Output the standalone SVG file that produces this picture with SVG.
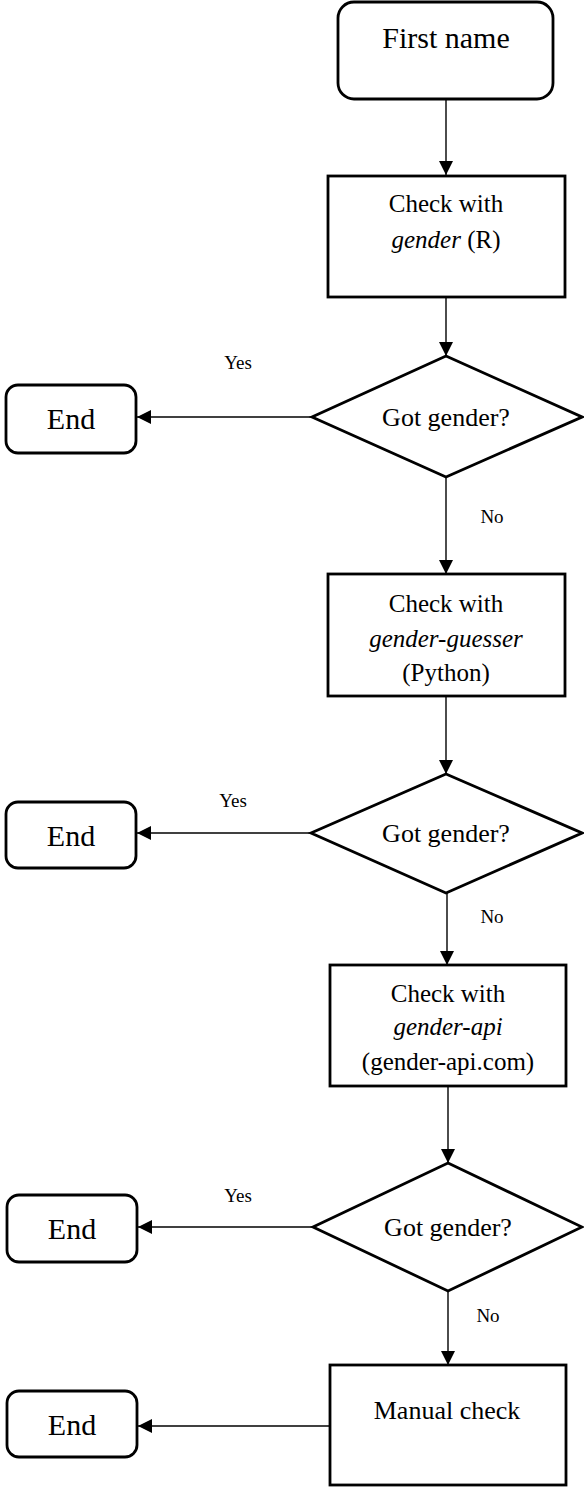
<svg xmlns="http://www.w3.org/2000/svg" width="584" height="1489" viewBox="0 0 584 1489">
<defs>
<marker id="arr" markerUnits="userSpaceOnUse" markerWidth="14" markerHeight="14" refX="14" refY="7" orient="auto">
<path d="M0,0 L14,7 L0,14 z" fill="#000"/>
</marker>
<style>
.box{fill:#fff;stroke:#000;stroke-width:2.8}
.edge{fill:none;stroke:#000;stroke-width:1.4;marker-end:url(#arr)}
text{font-family:"Liberation Serif","Times New Roman",serif;fill:#000;text-anchor:middle}
.big{font-size:30px}
.mid{font-size:25px}
.dec{font-size:26px}
.lbl{font-size:19px}
.it{font-style:italic}
</style>
</defs>
<rect width="584" height="1489" fill="#fff"/>
<g id="connectors">
<line class="edge" x1="446" y1="99" x2="446" y2="175"/>
<line class="edge" x1="446" y1="297" x2="446" y2="356"/>
<line class="edge" x1="312" y1="417" x2="137" y2="417"/>
<line class="edge" x1="446" y1="477" x2="446" y2="574"/>
<line class="edge" x1="446" y1="696" x2="446" y2="774"/>
<line class="edge" x1="311" y1="833" x2="137" y2="833"/>
<line class="edge" x1="447" y1="893" x2="447" y2="965"/>
<line class="edge" x1="448" y1="1086" x2="448" y2="1163"/>
<line class="edge" x1="313" y1="1227" x2="138" y2="1227"/>
<line class="edge" x1="448" y1="1291" x2="448" y2="1365"/>
<line class="edge" x1="330" y1="1426" x2="138" y2="1426"/>
<text class="lbl" x="238" y="369">Yes</text>
<text class="lbl" x="492" y="523">No</text>
<text class="lbl" x="233" y="807">Yes</text>
<text class="lbl" x="492" y="923">No</text>
<text class="lbl" x="238" y="1202">Yes</text>
<text class="lbl" x="488" y="1322">No</text>
</g>
<g id="start">
<rect class="box" x="338" y="2" width="215" height="97" rx="16"/>
<text class="big" x="446" y="48">First name</text>
</g>
<g id="check1">
<rect class="box" x="328" y="176" width="237" height="121"/>
<text class="mid" x="446" y="212">Check with</text>
<text class="mid" x="446" y="248"><tspan class="it">gender</tspan> (R)</text>
</g>
<g id="dec1">
<polygon class="box" points="446,356 582,417 446,477 312,417"/>
<text class="dec" x="446" y="426">Got gender?</text>
</g>
<g id="end1">
<rect class="box" x="6" y="385" width="130" height="68" rx="12"/>
<text class="big" x="71" y="429">End</text>
</g>
<g id="check2">
<rect class="box" x="328" y="574" width="237" height="122"/>
<text class="mid" x="446" y="612">Check with</text>
<text class="mid it" x="446" y="647">gender-guesser</text>
<text class="mid" x="446" y="681">(Python)</text>
</g>
<g id="dec2">
<polygon class="box" points="446,774 582,833 446,893 311,833"/>
<text class="dec" x="446" y="842">Got gender?</text>
</g>
<g id="end2">
<rect class="box" x="6" y="802" width="130" height="66" rx="12"/>
<text class="big" x="71" y="846">End</text>
</g>
<g id="check3">
<rect class="box" x="330" y="965" width="236" height="121"/>
<text class="mid" x="448" y="1002">Check with</text>
<text class="mid it" x="448" y="1035">gender-api</text>
<text class="mid" x="448" y="1070">(gender-api.com)</text>
</g>
<g id="dec3">
<polygon class="box" points="448,1163 582,1227 448,1291 313,1227"/>
<text class="dec" x="448" y="1236">Got gender?</text>
</g>
<g id="end3">
<rect class="box" x="7" y="1195" width="130" height="67" rx="12"/>
<text class="big" x="72" y="1239">End</text>
</g>
<g id="manual">
<rect class="box" x="330" y="1365" width="236" height="120"/>
<text class="dec" x="447" y="1419">Manual check</text>
</g>
<g id="end4">
<rect class="box" x="7" y="1391" width="130" height="66" rx="12"/>
<text class="big" x="72" y="1435">End</text>
</g>
</svg>
